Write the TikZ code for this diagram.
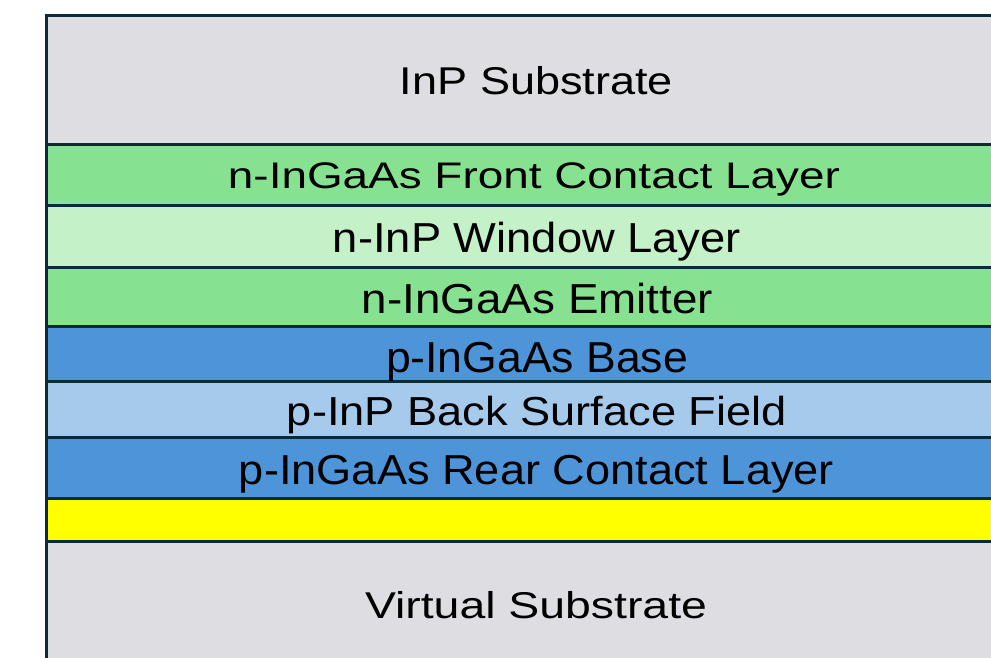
\documentclass[tikz,border=0pt]{standalone}
\usepackage{fontspec}
\usepackage{graphicx}
\setmainfont{Liberation Sans}
\definecolor{edge}{HTML}{0D2A3A}
\definecolor{subgray}{HTML}{DEDDE2}
\definecolor{ngreen}{HTML}{86E290}
\definecolor{nlight}{HTML}{C4F1C8}
\definecolor{pblue}{HTML}{4D94D9}
\definecolor{plight}{HTML}{A6CAEC}
\definecolor{metal}{HTML}{FFFF00}
% label text: fixed font size, stretched to a given width
\newcommand\lbl[3]{\fontsize{#2}{#2}\selectfont\resizebox{#1}{\height}{#3}}
\begin{document}
\begin{tikzpicture}[x=1pt,y=-1pt,
  layer/.style={draw=edge, line width=3pt},
  lab/.style={inner sep=0pt, anchor=base, text=black}]
\useasboundingbox (0,0) rectangle (991,658);
\clip (0,0) rectangle (991,658);
% layer stack, top to bottom
\draw[layer, fill=subgray] (46.5,15.5) rectangle (1030,145);
\draw[layer, fill=ngreen]  (46.5,145)  rectangle (1030,205.5);
\draw[layer, fill=nlight]  (46.5,205.5) rectangle (1030,267.5);
\draw[layer, fill=ngreen]  (46.5,267.5) rectangle (1030,326);
\draw[layer, fill=pblue]   (46.5,326)  rectangle (1030,381);
\draw[layer, fill=plight]  (46.5,381)  rectangle (1030,437.5);
\draw[layer, fill=pblue]   (46.5,437.5) rectangle (1030,498.5);
\draw[layer, fill=metal]   (46.5,498.5) rectangle (1030,541);
\draw[layer, fill=subgray] (46.5,541)  rectangle (1030,700);
% layer names
\node[lab] (inp)   at (536.5,94.3)  {\lbl{273pt}{38.7pt}{InP Substrate}};
\node[lab] (fcl)   at (534,188.3)   {\lbl{612pt}{37pt}{n-InGaAs Front Contact Layer}};
\node[lab] (win)   at (537,252.3)   {\lbl{408pt}{41.9pt}{n-InP Window Layer}};
\node[lab] (emit)  at (537.5,313)   {\lbl{351pt}{41.9pt}{n-InGaAs Emitter}};
\node[lab] (base)  at (537,372.7)   {\lbl{302pt}{43.3pt}{p-InGaAs Base}};
\node[lab] (bsf)   at (537,425.7)   {\lbl{500pt}{40.5pt}{p-InP Back Surface Field}};
\node[lab] (rcl)   at (536.5,484.4) {\lbl{595pt}{41.9pt}{p-InGaAs Rear Contact Layer}};
\node[lab] (vsub)  at (536,618.3)   {\lbl{342pt}{37.3pt}{Virtual Substrate}};
\end{tikzpicture}
\end{document}
